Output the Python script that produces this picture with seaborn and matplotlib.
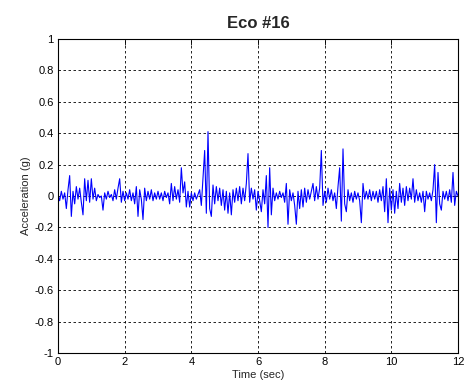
import numpy as np
import pandas as pd
import matplotlib
matplotlib.use("Agg")
import matplotlib.pyplot as plt
import seaborn as sns

title = "Eco #16"
x_label = "Time (sec)"
y_label = "Acceleration (g)"
dt = 0.05  # sample spacing (sec) of the values

accel_s0 = [0.01, -0.03, 0.03, -0.02, 0.02, -0.08, 0.04, 0.13, -0.13, 0.03,
            -0.05, 0.06, -0.02, 0.05, -0.04, -0.12, 0.11, -0.03, 0.10, -0.04]
accel_s1 = [0.11, -0.02, 0.05, -0.03, 0.01, -0.01, 0.00, -0.09, 0.02, -0.02,
            0.03, -0.01, 0.01, -0.03, 0.04, -0.02, 0.05, 0.11, -0.04, 0.03]
accel_s2 = [-0.03, 0.02, -0.02, 0.04, -0.03, 0.02, -0.05, 0.06, -0.13, 0.04,
            -0.02, -0.15, 0.05, -0.03, 0.03, -0.02, 0.04, -0.03, 0.02, -0.02]
accel_s3 = [0.03, -0.02, 0.02, -0.03, 0.03, -0.01, 0.02, -0.05, 0.08, -0.03,
            0.06, -0.02, 0.04, -0.04, 0.18, 0.02, 0.09, -0.07, 0.03, -0.07]
accel_s4 = [0.02, -0.03, 0.02, -0.02, 0.01, 0.04, -0.06, 0.12, 0.29, -0.11,
            0.41, -0.08, -0.13, 0.07, -0.05, 0.06, -0.03, 0.05, -0.06, 0.04]
accel_s5 = [-0.09, 0.03, -0.11, 0.02, -0.12, 0.04, -0.04, 0.05, -0.03, 0.06,
            -0.05, 0.05, -0.03, 0.08, 0.27, -0.04, 0.05, -0.02, 0.04, -0.09]
accel_s6 = [0.03, -0.03, -0.10, 0.04, -0.05, 0.13, -0.20, 0.18, -0.12, 0.05,
            -0.03, 0.02, -0.02, 0.03, -0.01, 0.02, -0.04, 0.08, -0.18, 0.04]
accel_s7 = [-0.03, 0.02, -0.06, -0.18, 0.03, -0.08, 0.04, -0.07, 0.05, -0.04,
            0.04, -0.02, 0.03, 0.08, -0.03, 0.06, -0.02, 0.05, 0.29, -0.06]
accel_s8 = [0.03, -0.04, 0.05, -0.02, 0.04, -0.03, 0.02, -0.08, 0.06, 0.18,
            -0.16, 0.30, -0.05, -0.10, 0.04, -0.03, 0.02, -0.04, 0.03, -0.02]
accel_s9 = [0.02, -0.03, -0.17, 0.08, -0.02, 0.03, -0.02, 0.04, -0.03, 0.03,
            -0.02, 0.03, -0.04, 0.04, -0.03, 0.06, -0.10, 0.11, -0.17, 0.05]
accel_s10 = [-0.09, 0.04, -0.11, 0.03, -0.08, 0.08, -0.04, 0.05, -0.06, 0.06,
             -0.03, 0.05, -0.02, 0.11, -0.04, 0.04, -0.03, 0.02, -0.04, 0.03]
accel_s11 = [-0.10, 0.03, -0.02, 0.02, -0.03, 0.04, 0.20, -0.17, 0.15, -0.05,
             -0.09, 0.03, -0.02, 0.03, -0.03, 0.04, -0.04, 0.15, -0.06, 0.03]
accel_end = [0.00]

x_ticks = [0, 2, 4, 6, 8, 10, 12]
y_ticks = [-1, -0.8, -0.6, -0.4, -0.2, 0, 0.2, 0.4, 0.6, 0.8, 1]
y_tick_labels = ["-1", "-0.8", "-0.6", "-0.4", "-0.2", "0", "0.2", "0.4", "0.6", "0.8", "1"]

accel = (accel_s0 + accel_s1 + accel_s2 + accel_s3 + accel_s4 + accel_s5 +
         accel_s6 + accel_s7 + accel_s8 + accel_s9 + accel_s10 + accel_s11 + accel_end)
df = pd.DataFrame({"t": np.arange(len(accel)) * dt, "a": accel})

sns.set_style("white")
plt.rcParams["font.family"] = ["Liberation Sans", "DejaVu Sans"]

fig = plt.figure(figsize=(4.67, 3.91), dpi=100)
ax = fig.add_axes([58 / 467, 38 / 391, 400 / 467, 314 / 391])
sns.lineplot(data=df, x="t", y="a", ax=ax, color="#0000ff", linewidth=0.8, estimator=None)

ax.set_xlim(0, 12)
ax.set_ylim(-1, 1)
ax.set_xticks(x_ticks)
ax.set_xticklabels([str(v) for v in x_ticks])
ax.set_yticks(y_ticks)
ax.set_yticklabels(y_tick_labels)
ax.grid(True, color="black", linestyle=(0, (3, 3)), linewidth=0.6)
ax.tick_params(direction="in", top=True, right=True, length=4, width=0.6,
               labelsize=8, pad=3, colors="black")
for s in ax.spines.values():
    s.set_visible(True)
    s.set_color("black")
    s.set_linewidth(0.8)
ax.set_xlabel(x_label, fontsize=8, labelpad=2)
ax.set_ylabel(y_label, fontsize=8, labelpad=3)
ax.set_title(title, fontsize=12, fontweight="bold", pad=8)

fig.savefig("out.png", dpi=100, facecolor="white")
